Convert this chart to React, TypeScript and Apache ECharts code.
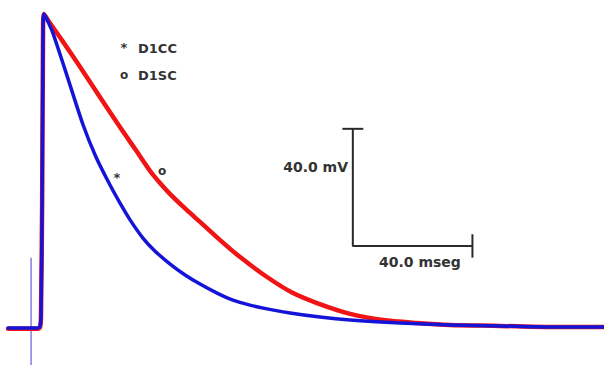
import React, { useEffect, useRef } from "react";
import * as echarts from "echarts";

// Action potential traces: time (ms) vs membrane potential (mV)
const timeBlue = [-11.3, -1.3, -0.6, -0.3, 0.1, 0.4, 0.7, 2.1, 3.7, 7.7, 13.8, 18.1, 22.8, 26.1, 29.5, 33.8, 37.8, 42.9, 47.9, 52.9, 58.6, 63.9, 69.6, 75.3, 83.0, 93.0, 103.1, 119.8, 136.5, 153.2, 169.9, 188.0];
const voltBlue = [-84.0, -84.0, -83.3, -80.6, -40.0, 17.8, 23.2, 20.5, 16.7, 4.4, -14.7, -25.6, -35.2, -41.3, -47.1, -53.3, -57.7, -62.2, -65.9, -69.0, -72.1, -74.5, -76.2, -77.5, -78.9, -80.3, -81.3, -82.3, -83.0, -83.3, -83.7, -83.7];

const timeRed = [-11.3, -1.3, -0.6, -0.3, 0.1, 0.4, 0.7, 2.7, 6.7, 12.8, 19.4, 26.1, 31.2, 36.2, 39.5, 42.9, 47.9, 52.9, 59.6, 66.3, 75.3, 84.0, 92.0, 103.1, 114.1, 125.5, 136.5, 153.2, 169.9, 188.0];
const voltRed = [-84.3, -84.3, -83.7, -80.6, -40.0, 17.8, 23.2, 20.1, 14.3, 5.1, -5.1, -15.4, -22.9, -30.4, -34.5, -38.3, -43.2, -47.8, -54.0, -59.8, -66.6, -72.1, -75.5, -79.2, -81.3, -82.3, -83.0, -83.3, -83.7, -83.7];

// Stimulus artifact
const stimTime = [-3.6, -3.6];
const stimVolt = [-60.0, -96.7];

// Scale bar: 40 mV by 40 ms
const barOrigin = [104, -56];
const barSize = [40, 40];

const seriesNames = ["D1CC", "D1SC"];
const scaleLabels = ["40.0 mV", "40.0 mseg"];

const pairs = (xs: number[], ys: number[]) => xs.map((x, i) => [x, ys[i]]);

export default function App() {
  const ref = useRef<HTMLDivElement>(null);

  useEffect(() => {
    if (!ref.current) return;
    const chart = echarts.init(ref.current, null, { renderer: "svg" });
    const [t0, v0] = barOrigin;
    const [dt, dv] = barSize;
    const barColor = "#2a2a2a";
    const textFont = "DejaVu Sans";
    const text = (x: number, y: number, s: string, size: number, align = "left") => ({
      type: "text",
      x,
      y,
      style: { text: s, font: `bold ${size}px "${textFont}"`, fill: "#333", align, verticalAlign: "middle" },
    });

    chart.setOption({
      animation: false,
      backgroundColor: "#ffffff",
      grid: { left: 0, right: 0, top: 0, bottom: 0 },
      xAxis: { type: "value", min: -14, max: 188, show: false, splitLine: { show: false } },
      yAxis: { type: "value", min: -97, max: 28, show: false, splitLine: { show: false } },
      series: [
        {
          type: "line",
          name: "stim",
          data: pairs(stimTime, stimVolt),
          symbol: "none",
          lineStyle: { color: "#7f7fe6", width: 1.5 },
        },
        {
          type: "line",
          name: seriesNames[1],
          data: pairs(timeRed, voltRed),
          symbol: "none",
          smooth: 0.25,
          lineStyle: { color: "#f01414", width: 4.5, cap: "round", join: "round" },
        },
        {
          type: "line",
          name: seriesNames[0],
          data: pairs(timeBlue, voltBlue),
          symbol: "none",
          smooth: 0.25,
          lineStyle: { color: "#1414d8", width: 3.5, cap: "round", join: "round" },
        },
        {
          type: "line",
          name: "scale",
          data: [[t0, v0 + dv], [t0, v0], [t0 + dt, v0]],
          symbol: "none",
          lineStyle: { color: barColor, width: 2 },
        },
        {
          type: "line",
          name: "capTop",
          data: [[t0 - 3.5, v0 + dv], [t0 + 3.5, v0 + dv]],
          symbol: "none",
          lineStyle: { color: barColor, width: 2 },
        },
        {
          type: "line",
          name: "capRight",
          data: [[t0 + dt, v0 + 4], [t0 + dt, v0 - 4]],
          symbol: "none",
          lineStyle: { color: barColor, width: 2 },
        },
      ],
      graphic: [
        text(348, 167, scaleLabels[0], 14, "right"),
        text(379, 262, scaleLabels[1], 14),
        text(124, 47, "*", 13, "center"),
        text(138, 48, seriesNames[0], 13),
        text(124, 75, "o", 12, "center"),
        text(138, 75, seriesNames[1], 13),
        text(117, 177, "*", 13, "center"),
        text(162, 171, "o", 12, "center"),
      ],
    });
    return () => chart.dispose();
  }, []);

  return <div ref={ref} style={{ position: "fixed", left: 0, top: 0, width: 604, height: 366 }} />;
}
